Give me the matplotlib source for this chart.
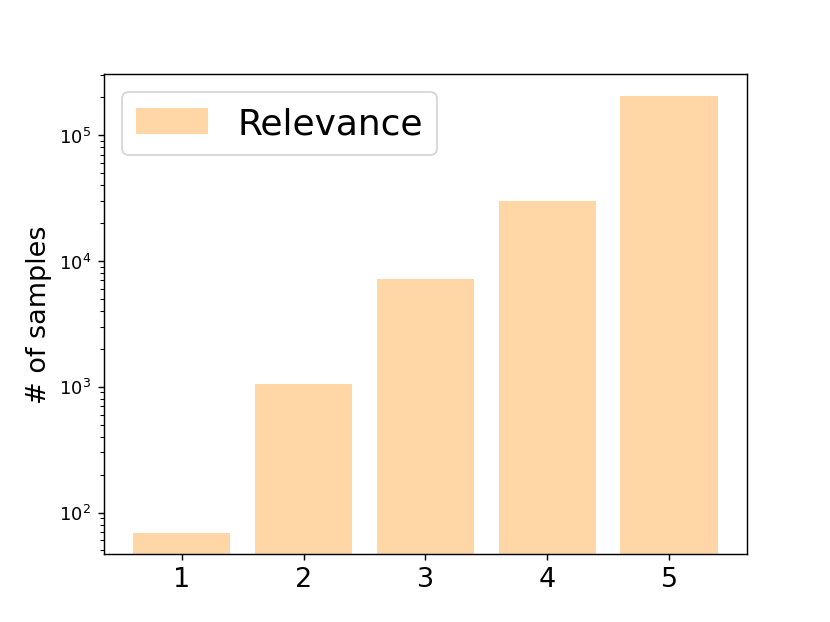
import matplotlib
matplotlib.use("Agg")
import matplotlib.pyplot as plt

categories = [1, 2, 3, 4, 5]
counts = [69, 1050, 7250, 30000, 204000]

fig, ax = plt.subplots(figsize=(6.4, 4.8), dpi=129.7)
ax.bar(categories, counts, width=0.8, color='darkorange', alpha=0.35, label='Relevance')
ax.set_yscale('log')
ax.set_ylim(47.2, 305500)
ax.set_xticks(categories)
ax.tick_params(axis='x', labelsize=15)
ax.set_ylabel('# of samples', fontsize=15)
ax.legend(loc='upper left', fontsize=20)
fig.savefig('out.png', dpi=129.7)
